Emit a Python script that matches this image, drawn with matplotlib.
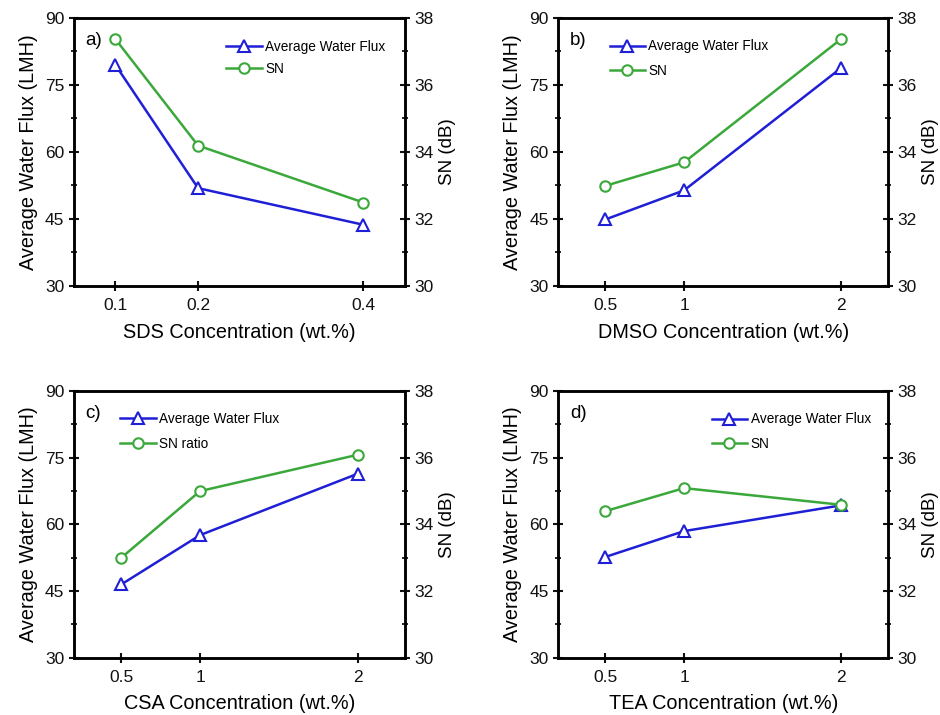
import matplotlib
matplotlib.use('Agg')
import matplotlib.pyplot as plt
from matplotlib.ticker import MultipleLocator
from matplotlib.lines import Line2D

plt.rcParams['font.family'] = ['Liberation Sans', 'DejaVu Sans']

# panel a) SDS
sds_conc = [0.1, 0.2, 0.4]
sds_flux = [79.5, 51.9, 43.7]
sds_sn = [37.37, 34.19, 32.49]

# panel b) DMSO
dmso_conc = [0.5, 1, 2]
dmso_flux = [44.9, 51.4, 78.8]
dmso_sn = [32.99, 33.69, 37.37]

# panel c) CSA
csa_conc = [0.5, 1, 2]
csa_flux = [46.5, 57.6, 71.4]
csa_sn = [33.0, 35.0, 36.09]

# panel d) TEA
tea_conc = [0.5, 1, 2]
tea_flux = [52.7, 58.5, 64.3]
tea_sn = [34.4, 35.09, 34.59]

blue = '#1f1fd6'
green = '#3aa83a'


def panel(rect, conc, flux, sn, xlim, xlabel, tag, sn_label, leg_xy, spacing):
    ax = fig.add_axes(rect)
    ax2 = ax.twinx()

    ax.plot(conc, flux, color=blue, lw=1.8, marker='^', ms=8, mfc='white',
            mec=blue, mew=1.5)
    ax2.plot(conc, sn, color=green, lw=1.8, marker='o', ms=7.5, mfc='white',
             mec=green, mew=1.5)

    ax.set_xlim(*xlim)
    ax.set_ylim(30, 90)
    ax2.set_ylim(30, 38)
    ax.set_xticks(conc)
    ax.set_xticklabels([('%g' % c) for c in conc])
    ax.yaxis.set_major_locator(MultipleLocator(15))
    ax.yaxis.set_minor_locator(MultipleLocator(7.5))
    ax2.yaxis.set_major_locator(MultipleLocator(2))
    ax2.yaxis.set_minor_locator(MultipleLocator(1))

    for a in (ax, ax2):
        for s in a.spines.values():
            s.set_linewidth(1.8)
        a.tick_params(which='major', direction='inout', length=7, width=1.5,
                      labelsize=12.5, colors='#111111')
        a.tick_params(which='minor', direction='inout', length=4, width=1.2)
    ax.tick_params(axis='x', pad=5)
    ax2.tick_params(axis='y', pad=3)

    ax.set_xlabel(xlabel, fontsize=14.3, labelpad=7)
    ax.set_ylabel('Average Water Flux (LMH)', fontsize=14.3, labelpad=5)
    ax2.set_ylabel('SN (dB)', fontsize=13.5, labelpad=4)

    ax.text(0.035, 0.9, tag, transform=ax.transAxes, fontsize=13.5)

    handles = [
        Line2D([], [], color=blue, lw=1.8, marker='^', ms=8, mfc='white', mec=blue, mew=1.5),
        Line2D([], [], color=green, lw=1.8, marker='o', ms=7.5, mfc='white', mec=green, mew=1.5),
    ]
    ax2.legend(handles, ['Average Water Flux', sn_label], loc='upper left',
               bbox_to_anchor=leg_xy, frameon=False, fontsize=9.8,
               handlelength=2.6, handletextpad=0.25, labelspacing=spacing,
               borderaxespad=0, borderpad=0)


fig = plt.figure(figsize=(9.4, 7.15), dpi=100)

panel([0.0787, 0.600, 0.352, 0.375], sds_conc, sds_flux, sds_sn, (0.05, 0.45),
      'SDS Concentration (wt.%)', 'a)', 'SN', (0.46, 0.918), 0.6)
panel([0.594, 0.600, 0.351, 0.375], dmso_conc, dmso_flux, dmso_sn, (0.2, 2.3),
      'DMSO Concentration (wt.%)', 'b)', 'SN', (0.155, 0.92), 0.75)
panel([0.0787, 0.080, 0.352, 0.373], csa_conc, csa_flux, csa_sn, (0.2, 2.3),
      'CSA Concentration (wt.%)', 'c)', 'SN ratio', (0.14, 0.922), 0.8)
panel([0.594, 0.080, 0.351, 0.373], tea_conc, tea_flux, tea_sn, (0.2, 2.3),
      'TEA Concentration (wt.%)', 'd)', 'SN', (0.465, 0.92), 0.75)

fig.savefig('out.png', dpi=100)
